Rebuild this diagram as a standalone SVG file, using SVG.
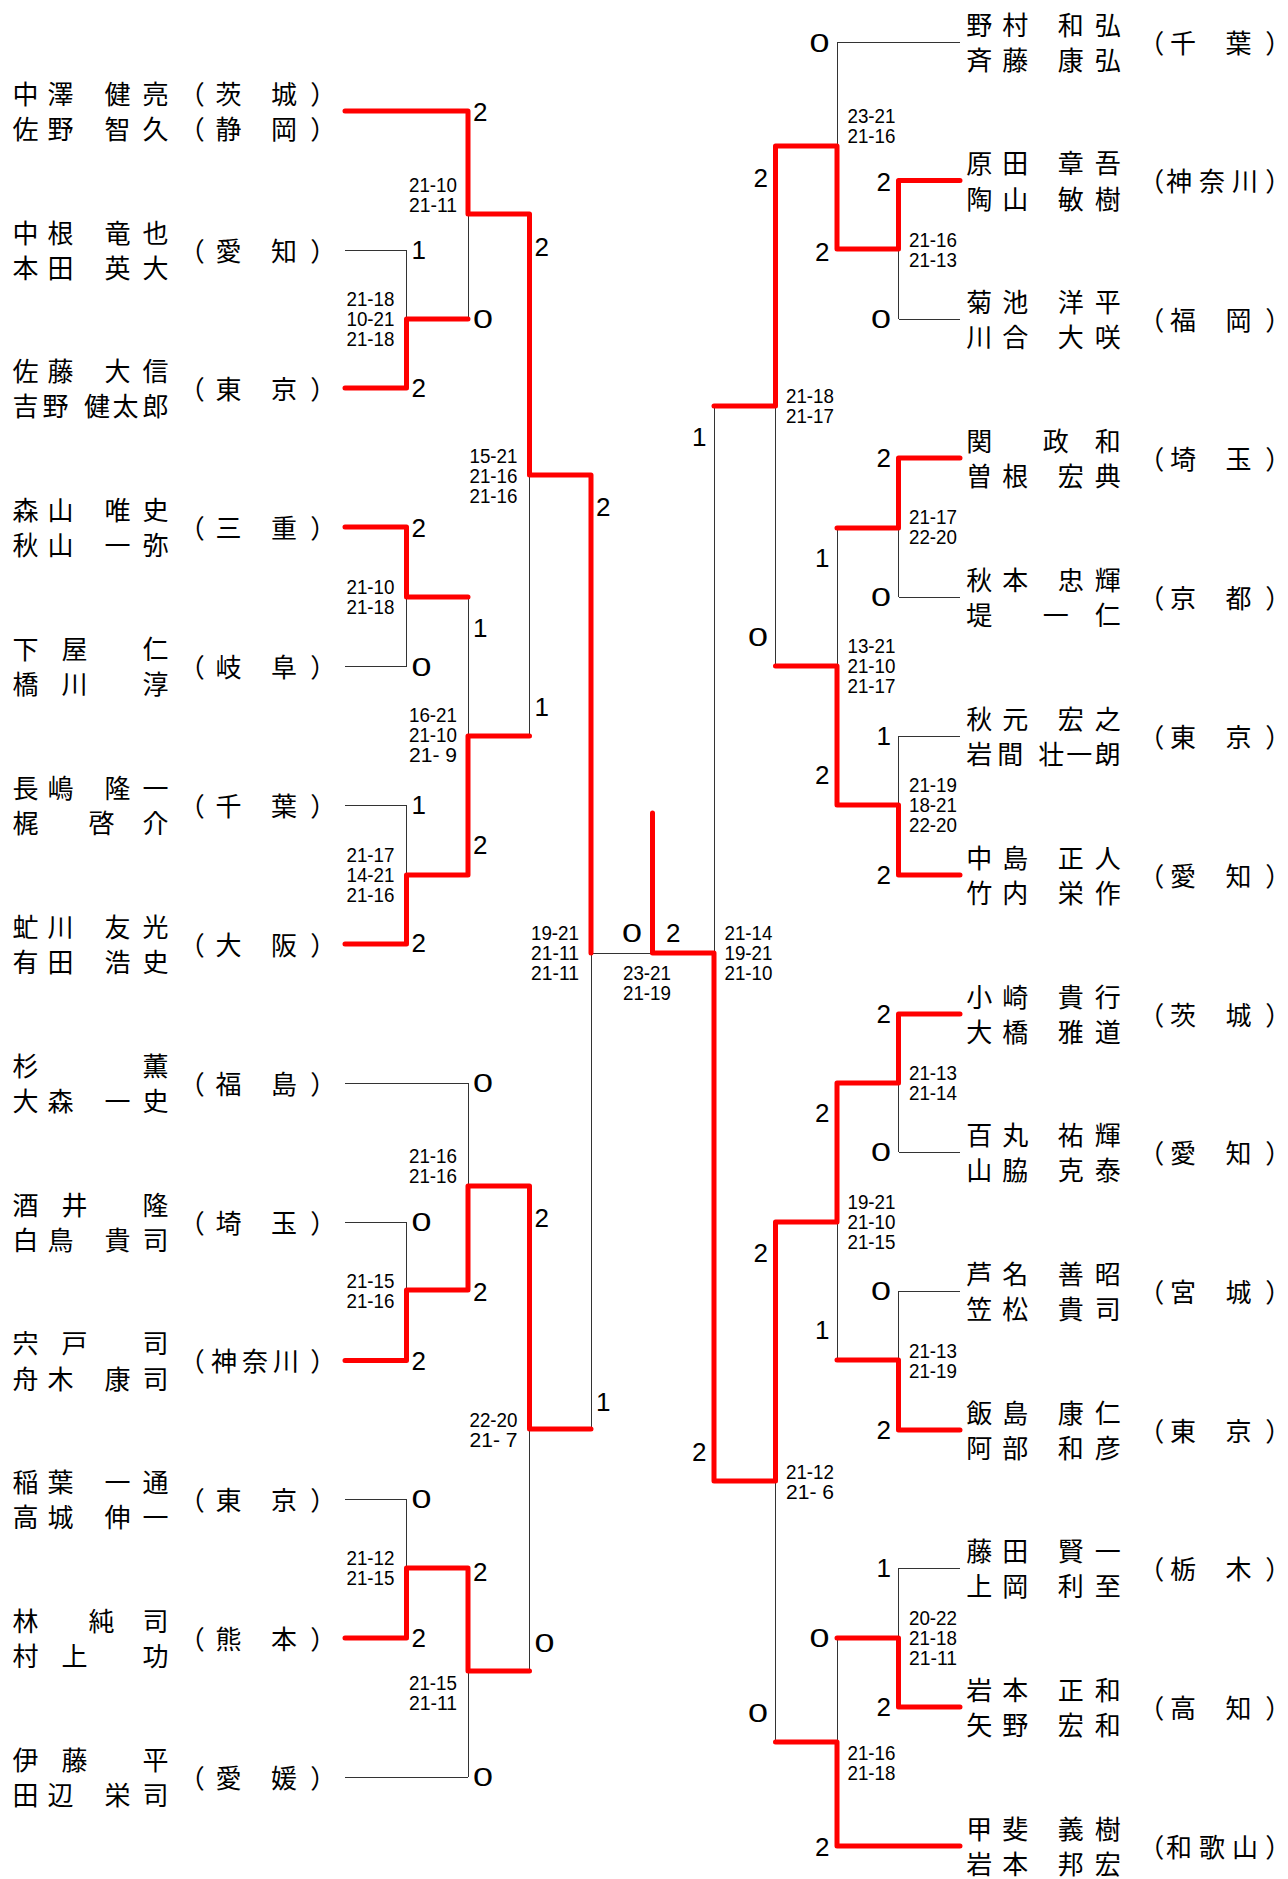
<svg xmlns="http://www.w3.org/2000/svg" width="1288" height="1879" viewBox="0 0 1288 1879">
<style>
.nm{font-family:'Noto Sans CJK JP','Noto Sans CJK SC',sans-serif;font-size:26px;fill:#000}
.sc{font-family:'Liberation Sans',Arial,sans-serif;font-size:26px;fill:#000;dominant-baseline:central}
.sr{text-anchor:end}
.gs{font-family:'Liberation Sans',Arial,sans-serif;font-size:20px;fill:#000;dominant-baseline:central}
.wire{fill:none;stroke:#333;stroke-width:1}
.win{fill:none;stroke:#f00;stroke-width:5;stroke-linecap:round;stroke-linejoin:round}
</style>
<rect width="1288" height="1879" fill="#fff"/>
<g id="connectors">
<path class="wire" shape-rendering="crispEdges" d="M345,111H468M345,250H406.5M345,388H406.5M345,527H406.5M345,666H406.5M345,805H406.5M345,944H406.5M345,1083H468M345,1222H406.5M345,1360.5H406.5M345,1499H406.5M345,1638H406.5M345,1777H468
M406.5,250V388M406.5,527V666M406.5,805V944M406.5,1222V1360.5M406.5,1499V1638
M406.5,319H468M406.5,597H468M406.5,875H468M406.5,1290H468M406.5,1568H468
M468,111V319M468,597V875M468,1083V1290M468,1568V1777
M468,214H529.5M468,736H529.5M468,1186H529.5M468,1671H529.5
M529.5,214V736M529.5,1186V1671M529.5,475H591M529.5,1429H591M591,475V1429M591,953H714
M714,406V1481M714,406H775.5M714,1481H775.5
M775.5,146V666M775.5,1222V1742M775.5,146H837M775.5,666H837M775.5,1222H837M775.5,1742H837
M837,42V249M837,528V805M837,1083V1360M837,1638V1846
M837,249H898.5M837,528H898.5M837,805H898.5M837,1083H898.5M837,1360H898.5M837,1638H898.5M837,42H960M837,1846H960
M898.5,180.5V319M898.5,458V597M898.5,736V875M898.5,1014V1152M898.5,1291V1430M898.5,1568V1707
M898.5,180.5H960M898.5,319H960M898.5,458H960M898.5,597H960M898.5,736H960M898.5,875H960M898.5,1014H960M898.5,1152H960M898.5,1291H960M898.5,1430H960M898.5,1568H960M898.5,1707H960"/>
<path class="win" d="M345,111H468V214H529.5V475H591V953
M345,388H406.5V319H468
M345,527H406.5V597H468
M345,944H406.5V875H468V736H529.5
M345,1360.5H406.5V1290H468V1186H529.5V1429H591
M345,1638H406.5V1568H468V1671H529.5
M652.5,813V953H714V1481H775.5V1222H837V1083H898.5V1014H960
M960,180.5H898.5V249H837V146H775.5V406H714
M960,458H898.5V528H837
M960,875H898.5V805H837V666H775.5
M960,1430H898.5V1360H837
M960,1707H898.5V1638H837
M960,1846H837V1742H775.5"/>
</g>
<g id="scores">
<text class="sc" x="411.5" y="250">1</text>
<text class="sc" x="411.5" y="388">2</text>
<text class="sc" x="411.5" y="528">2</text>
<text class="sc" x="411.5" y="667" textLength="20" lengthAdjust="spacingAndGlyphs">0</text>
<text class="sc" x="411.5" y="805">1</text>
<text class="sc" x="411.5" y="943">2</text>
<text class="sc" x="411.5" y="1222" textLength="20" lengthAdjust="spacingAndGlyphs">0</text>
<text class="sc" x="411.5" y="1361">2</text>
<text class="sc" x="411.5" y="1499" textLength="20" lengthAdjust="spacingAndGlyphs">0</text>
<text class="sc" x="411.5" y="1638">2</text>
<text class="sc" x="473" y="112">2</text>
<text class="sc" x="473" y="319" textLength="20" lengthAdjust="spacingAndGlyphs">0</text>
<text class="sc" x="473" y="628">1</text>
<text class="sc" x="473" y="845">2</text>
<text class="sc" x="473" y="1083" textLength="20" lengthAdjust="spacingAndGlyphs">0</text>
<text class="sc" x="473" y="1292">2</text>
<text class="sc" x="473" y="1572">2</text>
<text class="sc" x="473" y="1777" textLength="20" lengthAdjust="spacingAndGlyphs">0</text>
<text class="sc" x="534.5" y="247">2</text>
<text class="sc" x="534.5" y="707">1</text>
<text class="sc" x="534.5" y="1218">2</text>
<text class="sc" x="534.5" y="1643" textLength="20" lengthAdjust="spacingAndGlyphs">0</text>
<text class="sc" x="596" y="507">2</text>
<text class="sc" x="596" y="1402">1</text>
<text class="sc" x="622" y="933" textLength="20" lengthAdjust="spacingAndGlyphs">0</text>
<text class="sc" x="666" y="933">2</text>
<text class="sc sr" x="891" y="182">2</text>
<text class="sc sr" x="891" y="319" textLength="20" lengthAdjust="spacingAndGlyphs">0</text>
<text class="sc sr" x="891" y="458">2</text>
<text class="sc sr" x="891" y="597" textLength="20" lengthAdjust="spacingAndGlyphs">0</text>
<text class="sc sr" x="891" y="736">1</text>
<text class="sc sr" x="891" y="875">2</text>
<text class="sc sr" x="891" y="1014">2</text>
<text class="sc sr" x="891" y="1152" textLength="20" lengthAdjust="spacingAndGlyphs">0</text>
<text class="sc sr" x="891" y="1291" textLength="20" lengthAdjust="spacingAndGlyphs">0</text>
<text class="sc sr" x="891" y="1430">2</text>
<text class="sc sr" x="891" y="1568">1</text>
<text class="sc sr" x="891" y="1707">2</text>
<text class="sc sr" x="829.5" y="43" textLength="20" lengthAdjust="spacingAndGlyphs">0</text>
<text class="sc sr" x="829.5" y="252">2</text>
<text class="sc sr" x="829.5" y="558">1</text>
<text class="sc sr" x="829.5" y="775">2</text>
<text class="sc sr" x="829.5" y="1113">2</text>
<text class="sc sr" x="829.5" y="1330">1</text>
<text class="sc sr" x="829.5" y="1638" textLength="20" lengthAdjust="spacingAndGlyphs">0</text>
<text class="sc sr" x="829.5" y="1847">2</text>
<text class="sc sr" x="768" y="178">2</text>
<text class="sc sr" x="768" y="637" textLength="20" lengthAdjust="spacingAndGlyphs">0</text>
<text class="sc sr" x="768" y="1253">2</text>
<text class="sc sr" x="768" y="1713" textLength="20" lengthAdjust="spacingAndGlyphs">0</text>
<text class="sc sr" x="706.5" y="437">1</text>
<text class="sc sr" x="706.5" y="1452">2</text>
</g>
<g id="games">
<text class="gs"><tspan x="346.5" y="299" textLength="48" lengthAdjust="spacingAndGlyphs">21-18</tspan><tspan x="346.5" y="319" textLength="48" lengthAdjust="spacingAndGlyphs">10-21</tspan><tspan x="346.5" y="339" textLength="48" lengthAdjust="spacingAndGlyphs">21-18</tspan></text>
<text class="gs"><tspan x="409" y="185" textLength="48" lengthAdjust="spacingAndGlyphs">21-10</tspan><tspan x="409" y="205" textLength="48" lengthAdjust="spacingAndGlyphs">21-11</tspan></text>
<text class="gs"><tspan x="346.5" y="587" textLength="48" lengthAdjust="spacingAndGlyphs">21-10</tspan><tspan x="346.5" y="607" textLength="48" lengthAdjust="spacingAndGlyphs">21-18</tspan></text>
<text class="gs"><tspan x="409" y="715" textLength="48" lengthAdjust="spacingAndGlyphs">16-21</tspan><tspan x="409" y="735" textLength="48" lengthAdjust="spacingAndGlyphs">21-10</tspan><tspan x="409" y="755" textLength="48" lengthAdjust="spacingAndGlyphs">21- 9</tspan></text>
<text class="gs"><tspan x="346.5" y="855" textLength="48" lengthAdjust="spacingAndGlyphs">21-17</tspan><tspan x="346.5" y="875" textLength="48" lengthAdjust="spacingAndGlyphs">14-21</tspan><tspan x="346.5" y="895" textLength="48" lengthAdjust="spacingAndGlyphs">21-16</tspan></text>
<text class="gs"><tspan x="469.5" y="456" textLength="48" lengthAdjust="spacingAndGlyphs">15-21</tspan><tspan x="469.5" y="476" textLength="48" lengthAdjust="spacingAndGlyphs">21-16</tspan><tspan x="469.5" y="496" textLength="48" lengthAdjust="spacingAndGlyphs">21-16</tspan></text>
<text class="gs"><tspan x="531" y="933" textLength="48" lengthAdjust="spacingAndGlyphs">19-21</tspan><tspan x="531" y="953" textLength="48" lengthAdjust="spacingAndGlyphs">21-11</tspan><tspan x="531" y="973" textLength="48" lengthAdjust="spacingAndGlyphs">21-11</tspan></text>
<text class="gs"><tspan x="409" y="1156" textLength="48" lengthAdjust="spacingAndGlyphs">21-16</tspan><tspan x="409" y="1176" textLength="48" lengthAdjust="spacingAndGlyphs">21-16</tspan></text>
<text class="gs"><tspan x="346.5" y="1281" textLength="48" lengthAdjust="spacingAndGlyphs">21-15</tspan><tspan x="346.5" y="1301" textLength="48" lengthAdjust="spacingAndGlyphs">21-16</tspan></text>
<text class="gs"><tspan x="469.5" y="1420" textLength="48" lengthAdjust="spacingAndGlyphs">22-20</tspan><tspan x="469.5" y="1440" textLength="48" lengthAdjust="spacingAndGlyphs">21- 7</tspan></text>
<text class="gs"><tspan x="346.5" y="1558" textLength="48" lengthAdjust="spacingAndGlyphs">21-12</tspan><tspan x="346.5" y="1578" textLength="48" lengthAdjust="spacingAndGlyphs">21-15</tspan></text>
<text class="gs"><tspan x="409" y="1683" textLength="48" lengthAdjust="spacingAndGlyphs">21-15</tspan><tspan x="409" y="1703" textLength="48" lengthAdjust="spacingAndGlyphs">21-11</tspan></text>
<text class="gs"><tspan x="623" y="973" textLength="48" lengthAdjust="spacingAndGlyphs">23-21</tspan><tspan x="623" y="993" textLength="48" lengthAdjust="spacingAndGlyphs">21-19</tspan></text>
<text class="gs"><tspan x="724.5" y="933" textLength="48" lengthAdjust="spacingAndGlyphs">21-14</tspan><tspan x="724.5" y="953" textLength="48" lengthAdjust="spacingAndGlyphs">19-21</tspan><tspan x="724.5" y="973" textLength="48" lengthAdjust="spacingAndGlyphs">21-10</tspan></text>
<text class="gs"><tspan x="847.5" y="116" textLength="48" lengthAdjust="spacingAndGlyphs">23-21</tspan><tspan x="847.5" y="136" textLength="48" lengthAdjust="spacingAndGlyphs">21-16</tspan></text>
<text class="gs"><tspan x="909" y="240" textLength="48" lengthAdjust="spacingAndGlyphs">21-16</tspan><tspan x="909" y="260" textLength="48" lengthAdjust="spacingAndGlyphs">21-13</tspan></text>
<text class="gs"><tspan x="786" y="396" textLength="48" lengthAdjust="spacingAndGlyphs">21-18</tspan><tspan x="786" y="416" textLength="48" lengthAdjust="spacingAndGlyphs">21-17</tspan></text>
<text class="gs"><tspan x="909" y="517" textLength="48" lengthAdjust="spacingAndGlyphs">21-17</tspan><tspan x="909" y="537" textLength="48" lengthAdjust="spacingAndGlyphs">22-20</tspan></text>
<text class="gs"><tspan x="847.5" y="646" textLength="48" lengthAdjust="spacingAndGlyphs">13-21</tspan><tspan x="847.5" y="666" textLength="48" lengthAdjust="spacingAndGlyphs">21-10</tspan><tspan x="847.5" y="686" textLength="48" lengthAdjust="spacingAndGlyphs">21-17</tspan></text>
<text class="gs"><tspan x="909" y="785" textLength="48" lengthAdjust="spacingAndGlyphs">21-19</tspan><tspan x="909" y="805" textLength="48" lengthAdjust="spacingAndGlyphs">18-21</tspan><tspan x="909" y="825" textLength="48" lengthAdjust="spacingAndGlyphs">22-20</tspan></text>
<text class="gs"><tspan x="909" y="1073" textLength="48" lengthAdjust="spacingAndGlyphs">21-13</tspan><tspan x="909" y="1093" textLength="48" lengthAdjust="spacingAndGlyphs">21-14</tspan></text>
<text class="gs"><tspan x="847.5" y="1202" textLength="48" lengthAdjust="spacingAndGlyphs">19-21</tspan><tspan x="847.5" y="1222" textLength="48" lengthAdjust="spacingAndGlyphs">21-10</tspan><tspan x="847.5" y="1242" textLength="48" lengthAdjust="spacingAndGlyphs">21-15</tspan></text>
<text class="gs"><tspan x="909" y="1351" textLength="48" lengthAdjust="spacingAndGlyphs">21-13</tspan><tspan x="909" y="1371" textLength="48" lengthAdjust="spacingAndGlyphs">21-19</tspan></text>
<text class="gs"><tspan x="786" y="1472" textLength="48" lengthAdjust="spacingAndGlyphs">21-12</tspan><tspan x="786" y="1492" textLength="48" lengthAdjust="spacingAndGlyphs">21- 6</tspan></text>
<text class="gs"><tspan x="909" y="1618" textLength="48" lengthAdjust="spacingAndGlyphs">20-22</tspan><tspan x="909" y="1638" textLength="48" lengthAdjust="spacingAndGlyphs">21-18</tspan><tspan x="909" y="1658" textLength="48" lengthAdjust="spacingAndGlyphs">21-11</tspan></text>
<text class="gs"><tspan x="847.5" y="1753" textLength="48" lengthAdjust="spacingAndGlyphs">21-16</tspan><tspan x="847.5" y="1773" textLength="48" lengthAdjust="spacingAndGlyphs">21-18</tspan></text>
</g>
<g id="e1"><text class="nm" x="12.5 47.5 80 104.5 142.5" y="103.5">中澤 健亮</text><text class="nm" x="12.5 47.5 80 104.5 142.5" y="139">佐野 智久</text><text class="nm" x="178.7 215.5 243 271 310.3" y="103.5">（茨　城）</text><text class="nm" x="178.7 215.5 243 271 310.3" y="139">（静　岡）</text></g>
<g id="e2"><text class="nm" x="12.5 47.5 80 104.5 142.5" y="242.5">中根 竜也</text><text class="nm" x="12.5 47.5 80 104.5 142.5" y="278">本田 英大</text><text class="nm" x="178.7 215.5 243 271 310.3" y="260.5">（愛　知）</text></g>
<g id="e3"><text class="nm" x="12.5 47.5 80 104.5 142.5" y="380.5">佐藤 大信</text><text class="nm" x="12.5 42.4 65 84 112.5 142.5" y="416">吉野 健太郎</text><text class="nm" x="178.7 215.5 243 271 310.3" y="398.5">（東　京）</text></g>
<g id="e4"><text class="nm" x="12.5 47.5 80 104.5 142.5" y="519.5">森山 唯史</text><text class="nm" x="12.5 47.5 80 104.5 142.5" y="555">秋山 一弥</text><text class="nm" x="178.7 215.5 243 271 310.3" y="537.5">（三　重）</text></g>
<g id="e5"><text class="nm" x="12.5 61.5 95 142.5" y="658.5">下屋 仁</text><text class="nm" x="12.5 61.5 95 142.5" y="694">橋川 淳</text><text class="nm" x="178.7 215.5 243 271 310.3" y="676.5">（岐　阜）</text></g>
<g id="e6"><text class="nm" x="12.5 47.5 80 104.5 142.5" y="797.5">長嶋 隆一</text><text class="nm" x="12.5 50 88.5 142.5" y="833">梶 啓介</text><text class="nm" x="178.7 215.5 243 271 310.3" y="815.5">（千　葉）</text></g>
<g id="e7"><text class="nm" x="12.5 47.5 80 104.5 142.5" y="936.5">虻川 友光</text><text class="nm" x="12.5 47.5 80 104.5 142.5" y="972">有田 浩史</text><text class="nm" x="178.7 215.5 243 271 310.3" y="954.5">（大　阪）</text></g>
<g id="e8"><text class="nm" x="12.5 70 142.5" y="1075.5">杉 薫</text><text class="nm" x="12.5 47.5 80 104.5 142.5" y="1111">大森 一史</text><text class="nm" x="178.7 215.5 243 271 310.3" y="1093.5">（福　島）</text></g>
<g id="e9"><text class="nm" x="12.5 61.5 95 142.5" y="1214.5">酒井 隆</text><text class="nm" x="12.5 47.5 80 104.5 142.5" y="1250">白鳥 貴司</text><text class="nm" x="178.7 215.5 243 271 310.3" y="1232.5">（埼　玉）</text></g>
<g id="e10"><text class="nm" x="12.5 61.5 95 142.5" y="1353">宍戸 司</text><text class="nm" x="12.5 47.5 80 104.5 142.5" y="1388.5">舟木 康司</text><text class="nm" x="178.7 211 242 273 310.3" y="1371">（神奈川）</text></g>
<g id="e11"><text class="nm" x="12.5 47.5 80 104.5 142.5" y="1491.5">稲葉 一通</text><text class="nm" x="12.5 47.5 80 104.5 142.5" y="1527">高城 伸一</text><text class="nm" x="178.7 215.5 243 271 310.3" y="1509.5">（東　京）</text></g>
<g id="e12"><text class="nm" x="12.5 50 88.5 142.5" y="1630.5">林 純司</text><text class="nm" x="12.5 61.5 95 142.5" y="1666">村上 功</text><text class="nm" x="178.7 215.5 243 271 310.3" y="1648.5">（熊　本）</text></g>
<g id="e13"><text class="nm" x="12.5 61.5 95 142.5" y="1769.5">伊藤 平</text><text class="nm" x="12.5 47.5 80 104.5 142.5" y="1805">田辺 栄司</text><text class="nm" x="178.7 215.5 243 271 310.3" y="1787.5">（愛　媛）</text></g>
<g id="r1"><text class="nm" x="966.3 1002.3 1035 1057.8 1094.8" y="34.5">野村 和弘</text><text class="nm" x="966.3 1002.3 1035 1057.8 1094.8" y="70">斉藤 康弘</text><text class="nm" x="1138.3 1170 1198 1225.5 1265.3" y="52.5">（千　葉）</text></g>
<g id="r2"><text class="nm" x="966.3 1002.3 1035 1057.8 1094.8" y="173">原田 章吾</text><text class="nm" x="966.3 1002.3 1035 1057.8 1094.8" y="208.5">陶山 敏樹</text><text class="nm" x="1138.3 1166 1199 1232 1265.3" y="191">（神奈川）</text></g>
<g id="r3"><text class="nm" x="966.3 1002.3 1035 1057.8 1094.8" y="311.5">菊池 洋平</text><text class="nm" x="966.3 1002.3 1035 1057.8 1094.8" y="347">川合 大咲</text><text class="nm" x="1138.3 1170 1198 1225.5 1265.3" y="329.5">（福　岡）</text></g>
<g id="r4"><text class="nm" x="966.3 1005 1042.8 1094.8" y="450.5">関 政和</text><text class="nm" x="966.3 1002.3 1035 1057.8 1094.8" y="486">曽根 宏典</text><text class="nm" x="1138.3 1170 1198 1225.5 1265.3" y="468.5">（埼　玉）</text></g>
<g id="r5"><text class="nm" x="966.3 1002.3 1035 1057.8 1094.8" y="589.5">秋本 忠輝</text><text class="nm" x="966.3 1005 1042.8 1094.8" y="625">堤 一仁</text><text class="nm" x="1138.3 1170 1198 1225.5 1265.3" y="607.5">（京　都）</text></g>
<g id="r6"><text class="nm" x="966.3 1002.3 1035 1057.8 1094.8" y="728.5">秋元 宏之</text><text class="nm" x="966.3 997.3 1020 1038.3 1066.3 1094.8" y="764">岩間 壮一朗</text><text class="nm" x="1138.3 1170 1198 1225.5 1265.3" y="746.5">（東　京）</text></g>
<g id="r7"><text class="nm" x="966.3 1002.3 1035 1057.8 1094.8" y="867.5">中島 正人</text><text class="nm" x="966.3 1002.3 1035 1057.8 1094.8" y="903">竹内 栄作</text><text class="nm" x="1138.3 1170 1198 1225.5 1265.3" y="885.5">（愛　知）</text></g>
<g id="r8"><text class="nm" x="966.3 1002.3 1035 1057.8 1094.8" y="1006.5">小崎 貴行</text><text class="nm" x="966.3 1002.3 1035 1057.8 1094.8" y="1042">大橋 雅道</text><text class="nm" x="1138.3 1170 1198 1225.5 1265.3" y="1024.5">（茨　城）</text></g>
<g id="r9"><text class="nm" x="966.3 1002.3 1035 1057.8 1094.8" y="1144.5">百丸 祐輝</text><text class="nm" x="966.3 1002.3 1035 1057.8 1094.8" y="1180">山脇 克泰</text><text class="nm" x="1138.3 1170 1198 1225.5 1265.3" y="1162.5">（愛　知）</text></g>
<g id="r10"><text class="nm" x="966.3 1002.3 1035 1057.8 1094.8" y="1283.5">芦名 善昭</text><text class="nm" x="966.3 1002.3 1035 1057.8 1094.8" y="1319">笠松 貴司</text><text class="nm" x="1138.3 1170 1198 1225.5 1265.3" y="1301.5">（宮　城）</text></g>
<g id="r11"><text class="nm" x="966.3 1002.3 1035 1057.8 1094.8" y="1422.5">飯島 康仁</text><text class="nm" x="966.3 1002.3 1035 1057.8 1094.8" y="1458">阿部 和彦</text><text class="nm" x="1138.3 1170 1198 1225.5 1265.3" y="1440.5">（東　京）</text></g>
<g id="r12"><text class="nm" x="966.3 1002.3 1035 1057.8 1094.8" y="1560.5">藤田 賢一</text><text class="nm" x="966.3 1002.3 1035 1057.8 1094.8" y="1596">上岡 利至</text><text class="nm" x="1138.3 1170 1198 1225.5 1265.3" y="1578.5">（栃　木）</text></g>
<g id="r13"><text class="nm" x="966.3 1002.3 1035 1057.8 1094.8" y="1699.5">岩本 正和</text><text class="nm" x="966.3 1002.3 1035 1057.8 1094.8" y="1735">矢野 宏和</text><text class="nm" x="1138.3 1170 1198 1225.5 1265.3" y="1717.5">（高　知）</text></g>
<g id="r14"><text class="nm" x="966.3 1002.3 1035 1057.8 1094.8" y="1838.5">甲斐 義樹</text><text class="nm" x="966.3 1002.3 1035 1057.8 1094.8" y="1874">岩本 邦宏</text><text class="nm" x="1138.3 1166 1199 1232 1265.3" y="1856.5">（和歌山）</text></g>
</svg>
